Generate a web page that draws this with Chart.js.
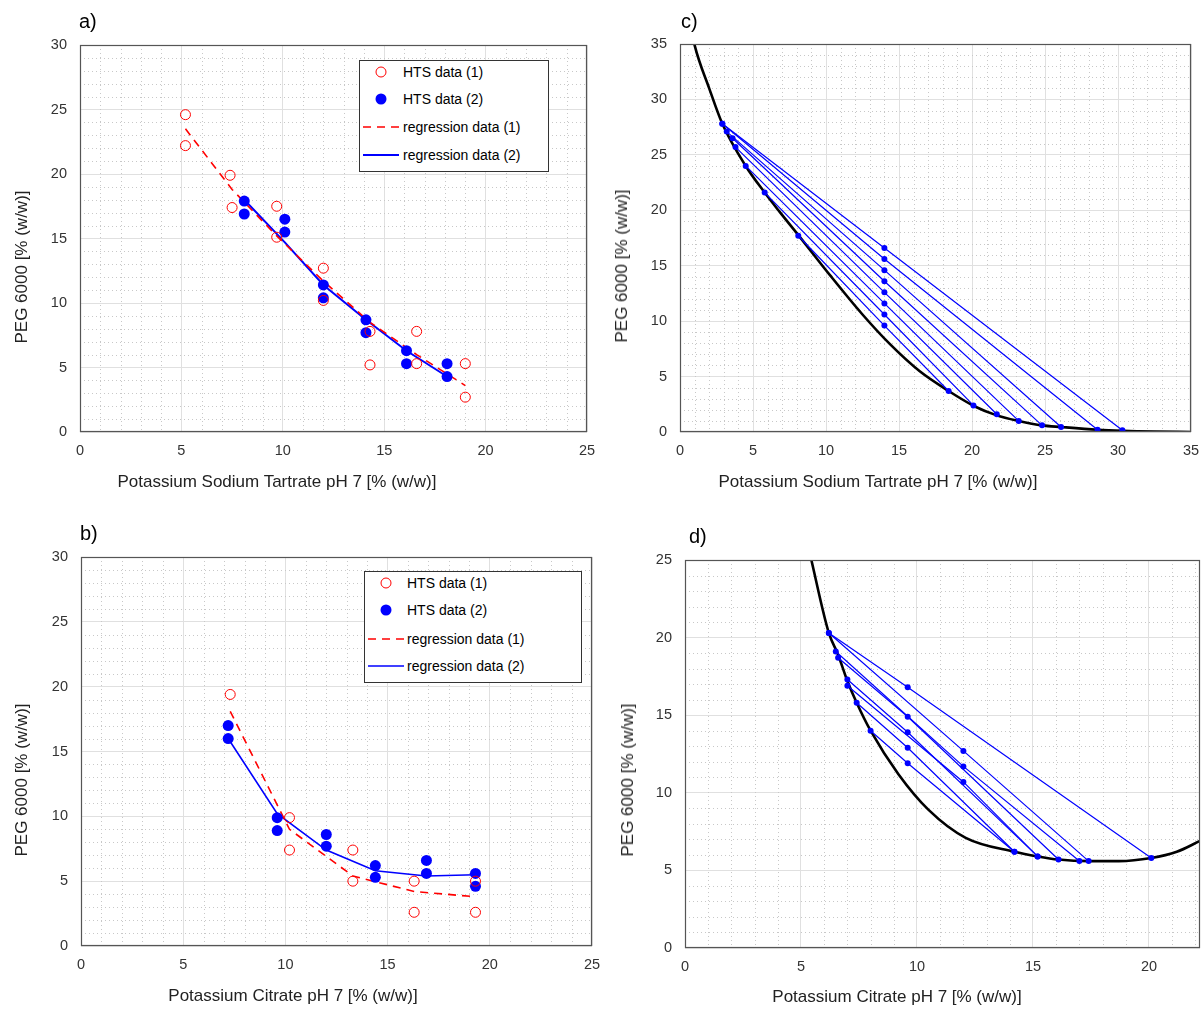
<!DOCTYPE html>
<html><head><meta charset="utf-8">
<script src="https://cdn.jsdelivr.net/npm/chart.js@4.4.0/dist/chart.umd.min.js"></script>
<style>
body{margin:0;background:#fff;font-family:"Liberation Sans",Arial,sans-serif;}
.c{position:absolute;}
.lbl{position:absolute;font-size:20px;color:#000;}
.xt{position:absolute;font-size:17px;color:#222;white-space:nowrap;transform:translate(-50%,-50%);}
.yt{position:absolute;font-size:17px;color:#222;white-space:nowrap;transform:translate(-50%,-50%) rotate(-90deg);}
.leg{position:absolute;background:#fff;border:1px solid #333;font-size:14px;}
.leg div{position:absolute;left:0;white-space:nowrap;height:20px;line-height:20px;}
.leg svg{position:absolute;left:0;top:0;}
.leg span{position:absolute;}
</style></head><body>
<canvas id="ca" class="c" style="left:0;top:0" width="600" height="500"></canvas>
<canvas id="cc" class="c" style="left:600px;top:0" width="604" height="500"></canvas>
<canvas id="cb" class="c" style="left:0;top:500px" width="600" height="512"></canvas>
<canvas id="cd" class="c" style="left:600px;top:500px" width="604" height="512"></canvas>
<div class="lbl" style="left:79px;top:10px">a)</div>
<div class="lbl" style="left:681px;top:10px">c)</div>
<div class="lbl" style="left:80px;top:522px">b)</div>
<div class="lbl" style="left:689px;top:525px">d)</div>
<div class="xt" style="left:277px;top:482px">Potassium Sodium Tartrate pH 7 [% (w/w)]</div>
<div class="xt" style="left:878px;top:482px">Potassium Sodium Tartrate pH 7 [% (w/w)]</div>
<div class="xt" style="left:293px;top:996px">Potassium Citrate pH 7 [% (w/w)]</div>
<div class="xt" style="left:897px;top:997px">Potassium Citrate pH 7 [% (w/w)]</div>
<div class="yt" style="left:22px;top:267px">PEG 6000 [% (w/w)]</div>
<div class="yt" style="left:622px;top:266px">PEG 6000 [% (w/w)]</div>
<div class="yt" style="left:22px;top:780px">PEG 6000 [% (w/w)]</div>
<div class="yt" style="left:628px;top:780px">PEG 6000 [% (w/w)]</div>
<div id="lega" class="leg" style="left:359px;top:60px;width:188px;height:110px"></div>
<div id="legb" class="leg" style="left:364px;top:571px;width:216px;height:110px"></div>
<script>
// ---- Data ----
// Panel a (Potassium Sodium Tartrate, HTS)
const aHts1X=[5.2,5.2,7.4,7.5,9.7,9.7,12.0,12.0,14.3,14.3,16.6,16.6,19.0,19.0];
const aHts1Y=[24.6,22.2,19.9,17.4,17.5,15.1,12.7,10.2,7.8,5.2,7.8,5.3,5.3,2.7];
const aHts2X=[8.1,8.1,10.1,10.1,12.0,12.0,14.1,14.1,16.1,16.1,18.1,18.1];
const aHts2Y=[17.9,16.9,16.5,15.5,11.4,10.4,8.7,7.7,6.3,5.3,5.3,4.3];
const aReg1X=[5.2,7.5,9.7,12.0,14.3,16.6,19.0];
const aReg1Y=[23.5,18.8,15.2,11.7,8.5,6.0,3.6];
const aReg2X=[8.1,10.1,12.0,14.1,16.1,18.1];
const aReg2Y=[18.0,14.7,11.4,8.7,6.3,4.3];
// Panel b (Potassium Citrate, HTS)
const bHts1X=[7.3,10.2,10.2,13.3,13.3,16.3,16.3,19.3,19.3];
const bHts1Y=[19.4,9.9,7.4,7.4,5.0,5.0,2.6,5.0,2.6];
const bHts2X=[7.2,7.2,9.6,9.6,12.0,12.0,14.4,14.4,16.9,16.9,19.3,19.3];
const bHts2Y=[17.0,16.0,9.9,8.9,8.6,7.7,6.2,5.3,6.6,5.6,5.6,4.6];
const bReg1X=[7.3,10.2,13.3,16.3,19.3];
const bReg1Y=[18.1,9.0,5.4,4.2,3.8];
const bReg2X=[7.2,9.6,12.0,14.4,16.9,19.3];
const bReg2Y=[16.0,10.2,7.4,5.8,5.4,5.5];
// Panel c binodal and tie lines
const cCurveX=[0.6,1.0,2.0,2.9,4.5,5.8,6.8,8.2,10.3,12.5,14.4,16.4,18.4,20.2,21.7,23.2,24.8,26.1,28.6,30.3,32.5,35];
const cCurveY=[37.5,34.9,31.0,27.8,24.0,21.6,19.9,17.6,14.1,10.6,7.9,5.5,3.7,2.3,1.5,1.0,0.6,0.45,0.2,0.1,0.03,0];
const cTieTopX=[2.9,2.9,3.2,3.6,3.8,4.5,5.8,8.1];
const cTieTopY=[27.8,27.8,27.1,26.5,25.7,24.0,21.6,17.7];
const cTieMidX=[14,14,14,14,14,14,14,14];
const cTieMidY=[16.6,15.6,14.6,13.6,12.6,11.6,10.6,9.6];
const cTieBotX=[30.3,28.6,26.1,24.8,23.2,21.7,20.1,18.4];
const cTieBotY=[0.15,0.2,0.45,0.6,1.0,1.6,2.4,3.7];
// Panel d binodal and tie lines
const dCurveX=[5.4,6.2,6.6,7.0,7.4,8.0,9.2,10.5,12.1,14.2,15.2,16.1,17.4,18.7,20.1,21.2,22.2];
const dCurveY=[25.3,20.3,18.9,17.2,15.8,14.0,11.2,8.9,7.1,6.2,5.9,5.7,5.6,5.6,5.8,6.2,6.9];
const dTieTopX=[6.2,6.2,6.5,6.6,7.0,7.0,7.4,8.0];
const dTieTopY=[20.3,20.3,19.1,18.7,17.3,16.9,15.8,14.0];
const dTieMidX=[9.6,12.0,12.0,9.6,9.6,12.0,9.6,9.6];
const dTieMidY=[16.8,12.7,11.7,14.9,13.9,10.7,12.9,11.9];
const dTieBotX=[20.1,17.4,17.0,16.1,15.2,15.2,14.2,14.2];
const dTieBotY=[5.8,5.6,5.6,5.7,5.9,5.9,6.2,6.2];
const ticks25=[0,5,10,15,20,25];

const RED='#ff0000',BLUE='#0000ff';
const pts=(xs,ys)=>xs.map((x,i)=>({x,y:ys[i]}));

const minorGrid={id:'minor',beforeDatasetsDraw(ch){
  const {ctx,chartArea:ca,scales:{x,y}}=ch;const p=ch.options.plugins.minor;
  ctx.save();ctx.beginPath();ctx.rect(ca.left,ca.top,ca.right-ca.left,ca.bottom-ca.top);ctx.clip();
  ctx.strokeStyle='#c8c8c8';ctx.lineWidth=1;ctx.setLineDash([1,3]);
  for(let v=0;v<=p.xmax;v++){if(v%5===0)continue;const px=Math.round(x.getPixelForValue(v))+0.5;ctx.beginPath();ctx.moveTo(px,ca.top);ctx.lineTo(px,ca.bottom);ctx.stroke();}
  for(let v=0;v<=p.ymax;v++){if(v%5===0)continue;const py=Math.round(y.getPixelForValue(v))+0.5;ctx.beginPath();ctx.moveTo(ca.left,py);ctx.lineTo(ca.right,py);ctx.stroke();}
  ctx.restore();},
 afterDraw(ch){const {ctx,chartArea:ca}=ch;ctx.save();ctx.strokeStyle='#555';ctx.lineWidth=1.2;ctx.strokeRect(ca.left+0.5,ca.top+0.5,ca.right-ca.left-1,ca.bottom-ca.top-1);ctx.restore();}
};

function make(id,o){
  new Chart(document.getElementById(id),{type:'scatter',data:{datasets:o.datasets},
   options:{responsive:false,animation:false,
    layout:{padding:{left:0,right:o.padR,top:o.top,bottom:0}},
    plugins:{legend:{display:false},tooltip:{enabled:false},minor:{xmax:o.xmax,ymax:o.ymax}},
    scales:{
     x:{type:'linear',min:0,max:o.xmax,afterFit:s=>{s.height=o.xh;s.paddingLeft=0;s.paddingRight=0;},
        afterBuildTicks:s=>{s.ticks=o.xt.map(v=>({value:v}));},
        grid:{color:'#e0e0e0',drawTicks:false},border:{display:false},
        ticks:{color:'#333',font:{size:14.5,family:'Liberation Sans'},padding:10,maxRotation:0,autoSkip:false}},
     y:{type:'linear',min:0,max:o.ymax,afterFit:s=>{s.width=o.yw;s.paddingTop=0;s.paddingBottom=0;},
        afterBuildTicks:s=>{s.ticks=o.yt.map(v=>({value:v}));},
        grid:{color:'#e0e0e0',drawTicks:false},border:{display:false},
        ticks:{color:'#333',font:{size:14.5,family:'Liberation Sans'},padding:13,autoSkip:false}}
    }},plugins:[minorGrid]});
}
const open=(d)=>({data:d,showLine:false,pointStyle:'circle',pointRadius:5,borderColor:RED,borderWidth:1,backgroundColor:'rgba(0,0,0,0)',order:1});
const fill=(d)=>({data:d,showLine:false,pointStyle:'circle',pointRadius:5.5,borderWidth:0,backgroundColor:BLUE,order:1});
const dash=(d)=>({data:d,showLine:true,pointRadius:0,borderColor:RED,borderWidth:1.6,borderDash:[8,6],order:2});
const solid=(d,w)=>({data:d,showLine:true,pointRadius:0,borderColor:BLUE,borderWidth:w,order:2});
function ties(tx,ty,mx,my,bx,by){
  const out=[];
  for(let i=0;i<tx.length;i++){
    out.push({data:[{x:tx[i],y:ty[i]},{x:mx[i],y:my[i]},{x:bx[i],y:by[i]}],showLine:true,borderColor:BLUE,borderWidth:1.2,pointRadius:3,pointBackgroundColor:BLUE,pointBorderWidth:0,order:1});
  }
  return out;
}
const curve=(xs,ys)=>({data:pts(xs,ys),showLine:true,pointRadius:0,borderColor:'#000',borderWidth:2.6,cubicInterpolationMode:'monotone',order:3});

make('ca',{padR:13,top:45,xh:68,yw:80,xmax:25,ymax:30,xt:ticks25,yt:[0,5,10,15,20,25,30],
 datasets:[open(pts(aHts1X,aHts1Y)),fill(pts(aHts2X,aHts2Y)),dash(pts(aReg1X,aReg1Y)),solid(pts(aReg2X,aReg2Y),2)]});
make('cc',{padR:13,top:44,xh:68,yw:80,xmax:35,ymax:35,xt:[0,5,10,15,20,25,30,35],yt:[0,5,10,15,20,25,30,35],
 datasets:[curve(cCurveX,cCurveY),...ties(cTieTopX,cTieTopY,cTieMidX,cTieMidY,cTieBotX,cTieBotY)]});
make('cb',{padR:8,top:57,xh:66,yw:81,xmax:25,ymax:30,xt:ticks25,yt:[0,5,10,15,20,25,30],
 datasets:[open(pts(bHts1X,bHts1Y)),fill(pts(bHts2X,bHts2Y)),dash(pts(bReg1X,bReg1Y)),solid(pts(bReg2X,bReg2Y),1.6)]});
make('cd',{padR:2,top:60,xh:64,yw:85,xmax:22.2,ymax:25,xt:[0,5,10,15,20],yt:[0,5,10,15,20,25],
 datasets:[curve(dCurveX,dCurveY),...ties(dTieTopX,dTieTopY,dTieMidX,dTieMidY,dTieBotX,dTieBotY)]});

// ---- HTML legends ----
const legItems=['HTS data (1)','HTS data (2)','regression data (1)','regression data (2)'];
function legend(id,rows,textX,w2){
  const el=document.getElementById(id);
  const sym=[
   '<circle cx="21" cy="10" r="5" fill="none" stroke="#f00" stroke-width="1"/>',
   '<circle cx="21" cy="10" r="5.5" fill="#00f"/>',
   '<line x1="3" y1="10" x2="39" y2="10" stroke="#f00" stroke-width="1.6" stroke-dasharray="8,6"/>',
   '<line x1="3" y1="10" x2="39" y2="10" stroke="#00f" stroke-width="'+w2+'"/>'];
  legItems.forEach((t,i)=>{
    const d=document.createElement('div');d.style.top=(rows[i]-10)+'px';d.style.width='100%';
    d.innerHTML='<svg width="42" height="20">'+sym[i]+'</svg><span style="left:'+textX+'px">'+t+'</span>';
    el.appendChild(d);
  });
}
legend('lega',[11,38,66,94],43,2);
legend('legb',[11,38,67,94],42,1.6);
</script></body></html>
